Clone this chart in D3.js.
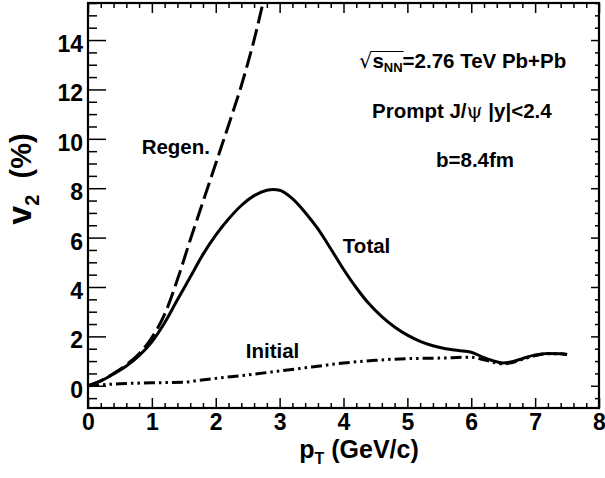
<!DOCTYPE html>
<html>
<head>
<meta charset="utf-8">
<script src="https://cdn.jsdelivr.net/npm/d3@7"></script>
<style>
  html, body { margin: 0; padding: 0; background: #fff; }
  svg { display: block; }
  text { font-family: "Liberation Sans", Arial, Helvetica, sans-serif; font-weight: bold; fill: #000; white-space: pre; }
</style>
</head>
<body>
<div id="chart"></div>
<script>
// ---- data ----
const xTickValues = [0, 1, 2, 3, 4, 5, 6, 7, 8];
const yTickValues = [0, 2, 4, 6, 8, 10, 12, 14];

const ptTotal = [0, 0.2, 0.4, 0.6, 0.8, 1.0, 1.2, 1.4, 1.6, 1.8, 2.0, 2.2, 2.4, 2.6, 2.8, 2.9, 3.0, 3.2, 3.4, 3.6, 3.8, 4.0, 4.2, 4.4, 4.6, 4.8, 5.0, 5.2, 5.4, 5.6, 5.8, 6.0, 6.2, 6.4, 6.5, 6.6, 6.8, 7.0, 7.2, 7.4, 7.5];
const v2Total = [0, 0.2, 0.48, 0.8, 1.22, 1.78, 2.55, 3.48, 4.4, 5.32, 6.1, 6.75, 7.3, 7.7, 7.92, 7.95, 7.92, 7.58, 7.02, 6.35, 5.55, 4.72, 3.97, 3.32, 2.8, 2.38, 2.05, 1.8, 1.62, 1.5, 1.43, 1.36, 1.14, 0.97, 0.92, 0.95, 1.1, 1.25, 1.31, 1.3, 1.27];

const ptInitial = [0, 0.5, 1.0, 1.5, 1.7, 2.0, 2.5, 3.0, 3.5, 4.0, 4.5, 5.0, 5.5, 6.0, 6.2, 6.4, 6.5, 6.6, 6.8, 7.0, 7.2, 7.4, 7.5];
const v2Initial = [0, 0.08, 0.12, 0.14, 0.21, 0.3, 0.44, 0.6, 0.76, 0.92, 1.03, 1.1, 1.12, 1.16, 1.05, 0.92, 0.88, 0.92, 1.07, 1.22, 1.3, 1.3, 1.27];

const ptRegen = [0, 0.2, 0.4, 0.6, 0.8, 1.0, 1.2, 1.4, 1.6, 1.8, 2.0, 2.2, 2.4, 2.6, 2.8];
const v2Regen = [0, 0.2, 0.5, 0.85, 1.3, 1.95, 2.9, 4.3, 5.9, 7.45, 9.0, 10.55, 12.15, 14.0, 16.2];

const xDomain = [0, 8];
const yDomain = [-0.9, 15.5];

// ---- layout ----
const W = 605, H = 478;
const margin = { left: 88, right: 6, top: 3, bottom: 70 };

const svg = d3.select("#chart").append("svg").attr("width", W).attr("height", H);

const x = d3.scaleLinear().domain(xDomain).range([margin.left, W - margin.right]);
const y = d3.scaleLinear().domain(yDomain).range([H - margin.bottom, margin.top]);

const x0 = x.range()[0], x1 = x.range()[1], y0 = y.range()[0], y1 = y.range()[1];

svg.append("clipPath").attr("id", "plotclip")
  .append("rect").attr("x", x0).attr("y", y1).attr("width", x1 - x0).attr("height", y0 - y1);

// ---- axes (ticks on all four sides) ----
const xMinor = d3.range(0, 8.0001, 0.2).filter(v => Math.abs(v - Math.round(v)) > 1e-6);
const yMinor = d3.range(-0.5, 15.5001, 0.5).filter(v => Math.abs(v / 2 - Math.round(v / 2)) > 1e-6);

function styleAxis(g) {
  g.select(".domain").remove();
  g.selectAll(".tick line").attr("stroke", "#000").attr("stroke-width", 1.5);
}

// bottom
svg.append("g").attr("transform", `translate(0,${y0})`)
  .call(d3.axisBottom(x).tickValues(xTickValues).tickSize(-10).tickFormat(d3.format("d")).tickPadding(0))
  .call(styleAxis)
  .call(g => g.selectAll(".tick text").attr("y", 22).attr("dy", null).attr("font-size", 23)
    .attr("font-family", "Liberation Sans, Arial, sans-serif").attr("font-weight", "bold"));
svg.append("g").attr("transform", `translate(0,${y0})`)
  .call(d3.axisBottom(x).tickValues(xMinor).tickSize(-5).tickFormat(""))
  .call(styleAxis);
// top
svg.append("g").attr("transform", `translate(0,${y1})`)
  .call(d3.axisTop(x).tickValues(xTickValues).tickSize(-10).tickFormat(""))
  .call(styleAxis);
svg.append("g").attr("transform", `translate(0,${y1})`)
  .call(d3.axisTop(x).tickValues(xMinor).tickSize(-5).tickFormat(""))
  .call(styleAxis);
// left
svg.append("g").attr("transform", `translate(${x0},0)`)
  .call(d3.axisLeft(y).tickValues(yTickValues).tickSize(-18).tickFormat(d3.format("d")).tickPadding(0))
  .call(styleAxis)
  .call(g => g.selectAll(".tick text").attr("x", -5).attr("dy", null).attr("y", 11.5).attr("font-size", 23)
    .attr("font-family", "Liberation Sans, Arial, sans-serif").attr("font-weight", "bold"));
svg.append("g").attr("transform", `translate(${x0},0)`)
  .call(d3.axisLeft(y).tickValues(yMinor).tickSize(-9).tickFormat(""))
  .call(styleAxis);
// right
svg.append("g").attr("transform", `translate(${x1},0)`)
  .call(d3.axisRight(y).tickValues(yTickValues).tickSize(-8).tickFormat(""))
  .call(styleAxis);
svg.append("g").attr("transform", `translate(${x1},0)`)
  .call(d3.axisRight(y).tickValues(yMinor).tickSize(-4).tickFormat(""))
  .call(styleAxis);

// frame
svg.append("rect").attr("x", x0).attr("y", y1).attr("width", x1 - x0).attr("height", y0 - y1)
  .attr("fill", "none").attr("stroke", "#000").attr("stroke-width", 2.2);

// ---- curves ----
const line = d3.line().x(d => x(d[0])).y(d => y(d[1])).curve(d3.curveMonotoneX);
const plot = svg.append("g").attr("clip-path", "url(#plotclip)");

plot.append("path").datum(d3.zip(ptRegen, v2Regen)).attr("d", line)
  .attr("fill", "none").attr("stroke", "#000").attr("stroke-width", 3)
  .attr("stroke-dasharray", "17,6");
plot.append("path").datum(d3.zip(ptInitial, v2Initial)).attr("d", line)
  .attr("fill", "none").attr("stroke", "#000").attr("stroke-width", 3)
  .attr("stroke-dasharray", "11,4,2.5,4,2.5,4");
plot.append("path").datum(d3.zip(ptTotal, v2Total)).attr("d", line)
  .attr("fill", "none").attr("stroke", "#000").attr("stroke-width", 3);

// ---- curve labels ----
const labels = [
  { text: "Regen.", px: 0.84, v: 9.4 },
  { text: "Total", px: 3.99, v: 5.37 },
  { text: "Initial", px: 2.47, v: 1.11 }
];
svg.selectAll(".clabel").data(labels).enter().append("text")
  .attr("class", "clabel").attr("x", d => x(d.px)).attr("y", d => y(d.v))
  .attr("font-size", 20.5).text(d => d.text);

// ---- annotations ----
const ann = svg.append("g").attr("font-size", 20.5);
const t1 = ann.append("text").attr("x", 359).attr("y", 68);
t1.append("tspan").attr("font-weight", "normal").attr("font-family", "DejaVu Sans, sans-serif").attr("font-size", 21).text("\u221A");
t1.append("tspan").text("s");
t1.append("tspan").attr("font-size", 13).attr("dy", 4).text("NN");
t1.append("tspan").attr("dy", -4).text("=2.76 TeV Pb+Pb");
// overline of the radical
{
  const node = t1.node();
  const a = node.getEndPositionOfChar(0);
  const b = node.getEndPositionOfChar(3);
  const bb = node.getExtentOfChar(0);
  ann.append("line").attr("x1", a.x - 1).attr("x2", b.x + 1)
    .attr("y1", bb.y + 2.5).attr("y2", bb.y + 2.5)
    .attr("stroke", "#000").attr("stroke-width", 1.2);
}
const t2 = ann.append("text").attr("x", 372).attr("y", 118);
t2.append("tspan").text("Prompt J/");
t2.append("tspan").attr("font-weight", "normal").attr("font-family", "DejaVu Serif, Liberation Serif, serif").text("\u03C8");
t2.append("tspan").text(" |y|<2.4");
ann.append("text").attr("x", 436).attr("y", 167).text("b=8.4fm");

// ---- axis titles ----
const xt = svg.append("text").attr("x", 359).attr("y", 458).attr("text-anchor", "middle").attr("font-size", 25);
xt.append("tspan").text("p");
xt.append("tspan").attr("font-size", 16).attr("dy", 6).text("T");
xt.append("tspan").attr("dy", -6).text(" (GeV/c)");

const yt = svg.append("text").attr("transform", "translate(31,179) rotate(-90)").attr("text-anchor", "middle").attr("font-size", 29);
yt.append("tspan").attr("font-size", 34).text("v");
yt.append("tspan").attr("font-size", 20).attr("dy", 8).text("2");
yt.append("tspan").attr("dy", -8).text("  (%)");
</script>
</body>
</html>
